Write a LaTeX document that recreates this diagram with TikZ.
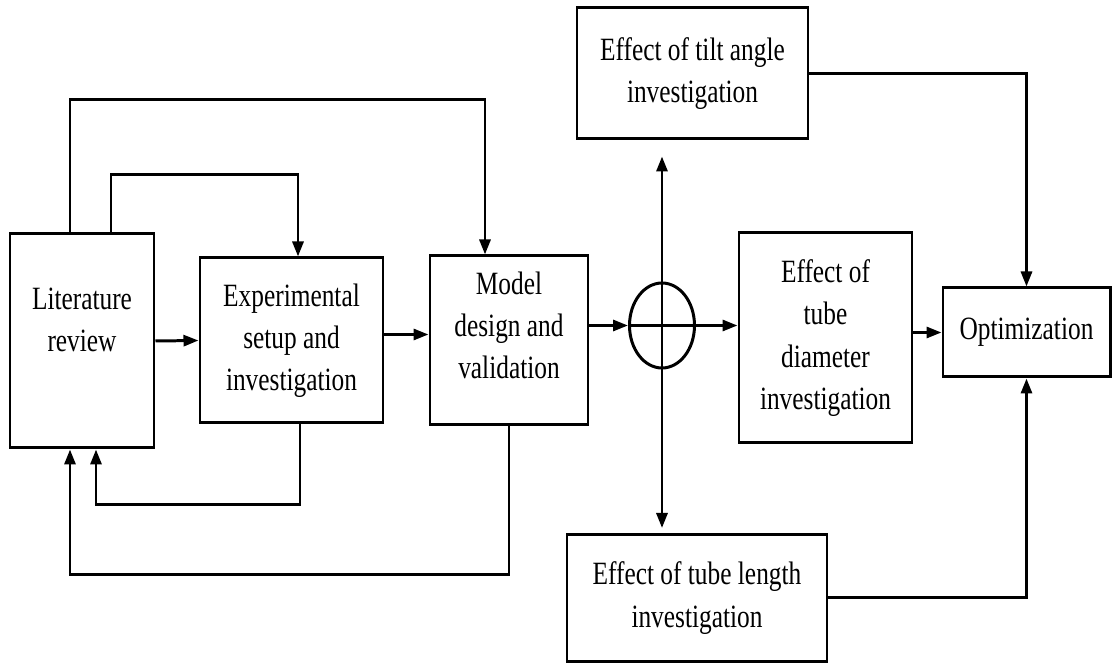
\documentclass[tikz,border=0pt]{standalone}
\usepackage{fontspec}
\setmainfont{Liberation Serif}[FakeStretch=0.78]
\usetikzlibrary{arrows.meta}
\usetikzlibrary{shapes.geometric}

\begin{document}
\begin{tikzpicture}[
		B/.style={draw, line width=1.7pt, align=center, inner sep=2pt, font=\fontsize{18.5}{24}\selectfont},
		T/.style={align=center, inner sep=0pt, font=\fontsize{18.5}{24}\selectfont},
		L/.style={line width=1.7pt, -{Triangle[length=0.3cm, width=0.22cm]}}
		]
		\useasboundingbox (0,0) rectangle (22.3,13.28);
		
		% boxes
		\node[B, minimum width=2.88cm, minimum height=4.28cm] (lit) at (1.64,6.46) {};
		\node[T] (littext) at ([yshift=0.42cm]lit.center) {Literature\\review};
		\node[B, minimum width=3.66cm, minimum height=3.30cm] (exp) at (5.83,6.47) {Experimental\\setup and\\investigation};
		\node[B, minimum width=3.16cm, minimum height=3.38cm] (model) at (10.18,6.47) {};
		\node[T] (modeltext) at ([yshift=0.3cm]model.center) {Model\\design and\\validation};
		\node[draw, line width=1.7pt, ellipse, minimum width=1.30cm, minimum height=1.70cm, inner sep=0pt] (sum) at (13.24,6.77) {};
		\node[B, minimum width=4.62cm, minimum height=2.62cm] (tilt) at (13.85,11.81) {Effect of tilt angle\\investigation};
		\node[B, minimum width=3.46cm, minimum height=4.20cm] (diam) at (16.51,6.52) {Effect of\\tube\\diameter\\investigation};
		\node[B, minimum width=5.20cm, minimum height=2.54cm] (length) at (13.94,1.32) {Effect of tube length\\investigation};
		\node[B, minimum width=3.34cm, minimum height=1.78cm] (opt) at (20.53,6.63) {Optimization};
		
		% forward arrows
		\draw[L] (lit.east) -- (exp.west);
		\draw[L] ([yshift=0.12cm]exp.east) -- ([yshift=0.12cm]model.west);
		\draw[L] (model.east |- sum.west) -- (sum.west);
		\draw[L] (sum.west) -- (diam.west |- sum.west);
		\draw[L, shorten >=0.32cm] (sum.south) -- (tilt.south -| sum.south);
		\draw[L, shorten >=0.1cm] (sum.north) -- (length.north -| sum.north);
		\draw[L] (diam.east |- opt.west) -- (opt.west);
		\draw[L] (tilt.east) -| (opt.north);
		\draw[L] (length.east) -| (opt.south);
		
		% loops round the top and the bottom
		\draw[L] ([xshift=-0.24cm]lit.north) -- ++(0,2.66) -| ([xshift=-0.48cm]model.north);
		\draw[L] ([xshift=0.58cm]lit.north) -- ++(0,1.16) -| ([xshift=0.13cm]exp.north);
		\draw[L] ([xshift=0.17cm]exp.south) -- ++(0,-1.6) -| ([xshift=0.28cm]lit.south);
		\draw[L] (model.south) -- ++(0,-2.96) -| ([xshift=-0.24cm]lit.south);
		
		\end{tikzpicture}
\end{document}
